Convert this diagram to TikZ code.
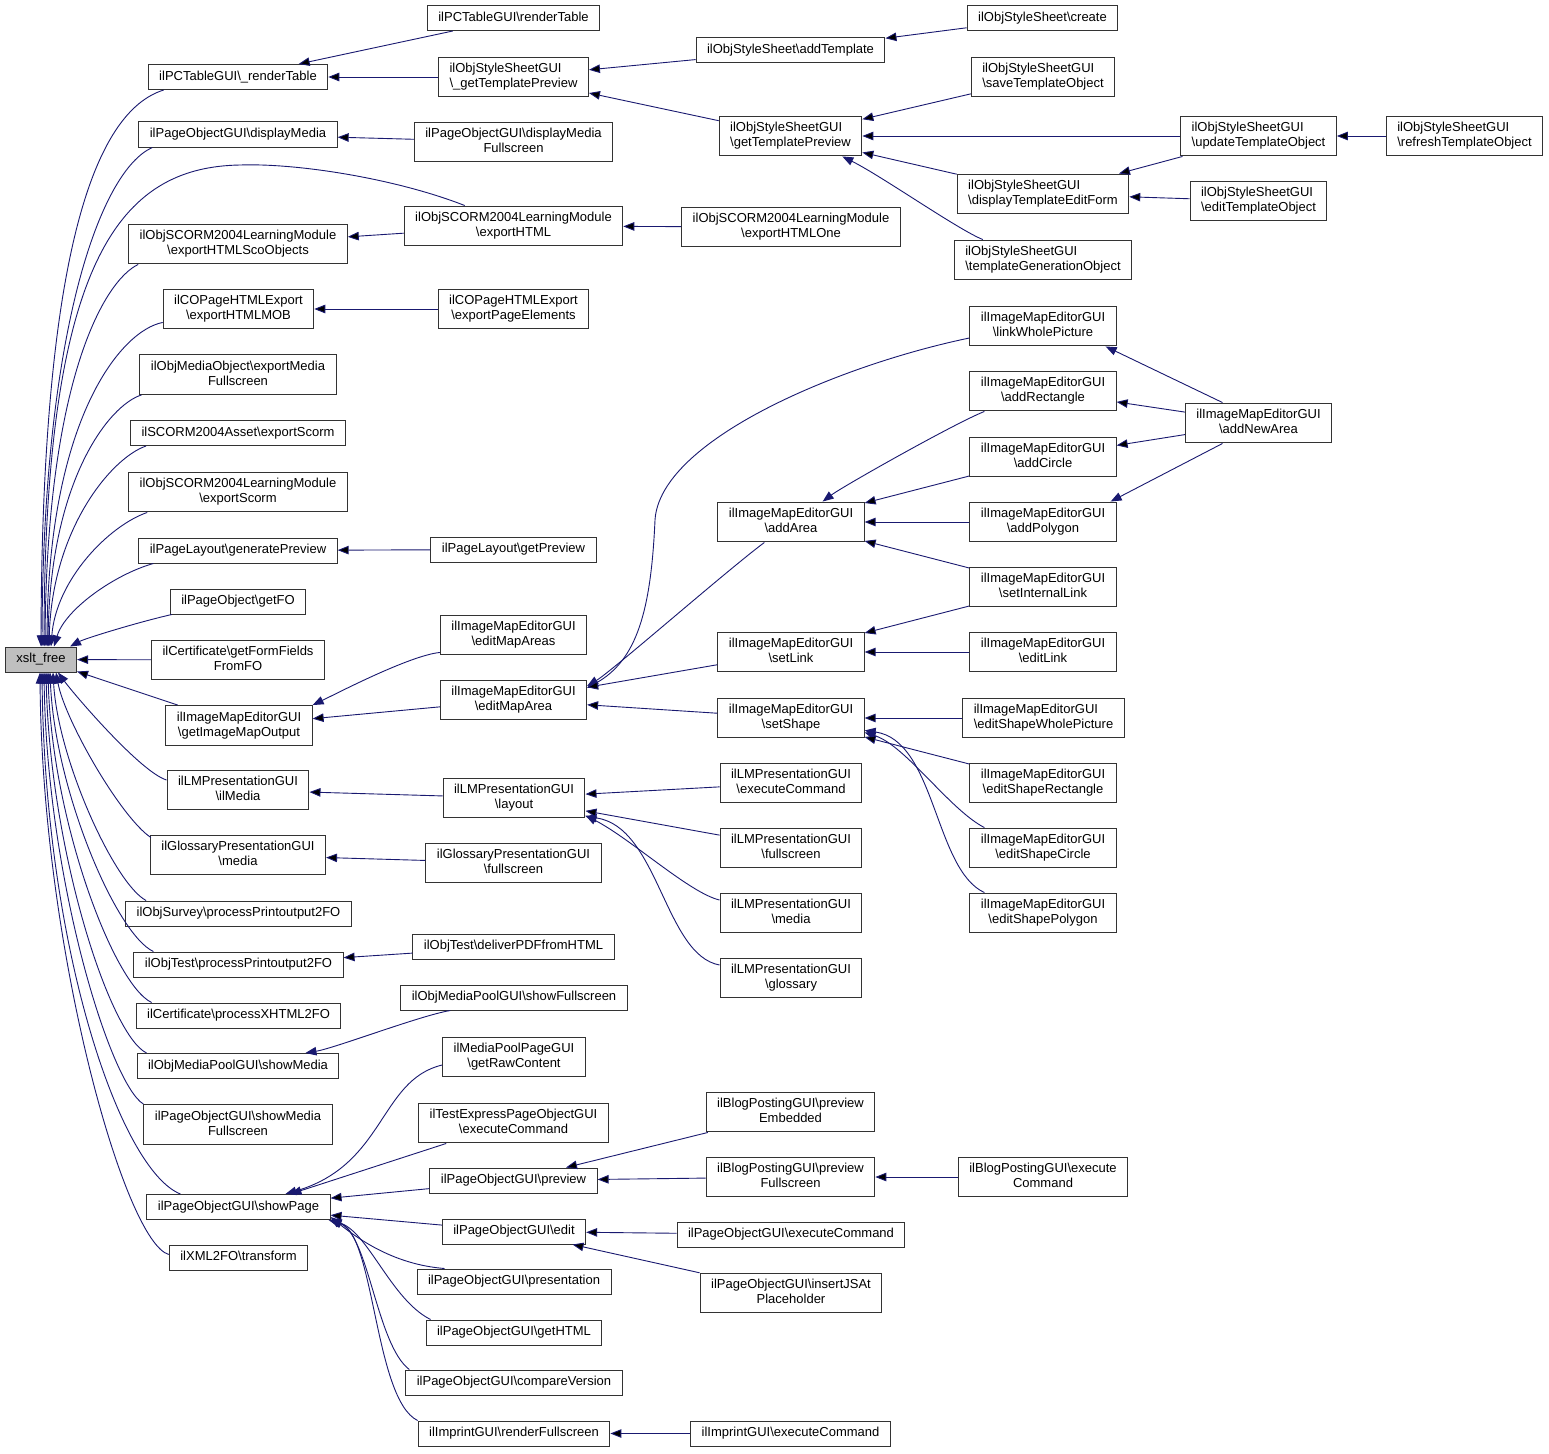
\documentclass[tikz,border=0pt]{standalone}
\usepackage{fontspec}
\setmainfont{Liberation Sans}
\usetikzlibrary{arrows.meta}

\definecolor{edgeblue}{HTML}{191970}
\definecolor{rootgray}{HTML}{BFBFBF}
\newcommand{\bs}{\textbackslash}
\newcommand{\fnstrut}{\vrule width 0pt height 9.5pt depth 3pt}

\tikzset{
  fn/.style={draw=black!80, line width=1pt, fill=white, inner xsep=11pt, inner ysep=6.25pt,
    align=center, font=\fontsize{13}{15}\selectfont,
    execute at begin node=\fnstrut, execute at end node=\fnstrut},
  fnl/.style={fn, align=left},
  root/.style={fn, fill=rootgray},
  call/.style={draw=edgeblue, line width=0.9pt, -{Triangle[length=11pt,width=8.5pt]}}
}

\begin{document}
\begin{tikzpicture}[x=1pt, y=1pt]
  \fill[white] (0,0) rectangle (1549,-1453);
  \useasboundingbox (0,0) rectangle (1549,-1453);

  \node[root] (xslt) at (41,-659.5) {xslt\_free};

  % first column
  \node[fn] (ptRenderU) at (238,-77) {ilPCTableGUI\bs\_renderTable};
  \node[fn] (dispMedia) at (238,-134.5) {ilPageObjectGUI\bs displayMedia};
  \node[fn] (expSco) at (238,-244) {ilObjSCORM2004LearningModule\\\bs exportHTMLScoObjects};
  \node[fn] (expMOB) at (238.5,-309) {ilCOPageHTMLExport\\\bs exportHTMLMOB};
  \node[fn] (expMediaFS) at (238,-374.5) {ilObjMediaObject\bs exportMedia\\Fullscreen};
  \node[fn] (assetScorm) at (238,-433) {ilSCORM2004Asset\bs exportScorm};
  \node[fn] (lmScorm) at (238,-492) {ilObjSCORM2004LearningModule\\\bs exportScorm};
  \node[fn] (genPrev) at (238,-550.5) {ilPageLayout\bs generatePreview};
  \node[fn] (getFO) at (238,-601.5) {ilPageObject\bs getFO};
  \node[fn] (formFields) at (238,-660) {ilCertificate\bs getFormFields\\FromFO};
  \node[fn] (imgMapOut) at (239,-725.5) {ilImageMapEditorGUI\\\bs getImageMapOutput};
  \node[fn] (ilMedia) at (238,-790) {ilLMPresentationGUI\\\bs ilMedia};
  \node[fn] (glossMedia) at (238,-855) {ilGlossaryPresentationGUI\\\bs media};
  \node[fn] (survey) at (238.5,-913.5) {ilObjSurvey\bs processPrintoutput2FO};
  \node[fn] (testPrint) at (238.5,-964.5) {ilObjTest\bs processPrintoutput2FO};
  \node[fn] (xhtml) at (238.5,-1015.5) {ilCertificate\bs processXHTML2FO};
  \node[fn] (showMedia) at (238,-1066) {ilObjMediaPoolGUI\bs showMedia};
  \node[fn] (showMediaFS) at (238,-1124.5) {ilPageObjectGUI\bs showMedia\\Fullscreen};
  \node[fn] (showPage) at (238.5,-1207) {ilPageObjectGUI\bs showPage};
  \node[fn] (transform) at (238.5,-1257.5) {ilXML2FO\bs transform};

  % second column
  \node[fn] (renderTable) at (513.5,-18) {ilPCTableGUI\bs renderTable};
  \node[fnl] (getTplPrevU) at (513.5,-77) {ilObjStyleSheetGUI\\\bs\_getTemplatePreview};
  \node[fn] (dispMediaFS) at (513.5,-142) {ilPageObjectGUI\bs displayMedia\\Fullscreen};
  \node[fn] (expHTML) at (513.5,-226) {ilObjSCORM2004LearningModule\\\bs exportHTML};
  \node[fn] (expPageEl) at (513.5,-309) {ilCOPageHTMLExport\\\bs exportPageElements};
  \node[fn] (getPreview) at (513.5,-549.5) {ilPageLayout\bs getPreview};
  \node[fn] (editMapAreas) at (513.5,-635) {ilImageMapEditorGUI\\\bs editMapAreas};
  \node[fn] (editMapArea) at (513.5,-700) {ilImageMapEditorGUI\\\bs editMapArea};
  \node[fn] (layout) at (514,-798) {ilLMPresentationGUI\\\bs layout};
  \node[fn] (glossFS) at (513.5,-863) {ilGlossaryPresentationGUI\\\bs fullscreen};
  \node[fn] (deliverPDF) at (513.5,-946.5) {ilObjTest\bs deliverPDFfromHTML};
  \node[fn] (showFS) at (514,-997.5) {ilObjMediaPoolGUI\bs showFullscreen};
  \node[fn] (rawContent) at (514,-1057) {ilMediaPoolPageGUI\\\bs getRawContent};
  \node[fn] (teExec) at (513.5,-1123) {ilTestExpressPageObjectGUI\\\bs executeCommand};
  \node[fn] (preview) at (513.5,-1180.5) {ilPageObjectGUI\bs preview};
  \node[fn] (edit) at (514,-1231.5) {ilPageObjectGUI\bs edit};
  \node[fn] (presentation) at (514,-1281.5) {ilPageObjectGUI\bs presentation};
  \node[fn] (getHTML) at (514,-1332.5) {ilPageObjectGUI\bs getHTML};
  \node[fn] (compareVer) at (514,-1382.5) {ilPageObjectGUI\bs compareVersion};
  \node[fn] (renderFS) at (514,-1433.5) {ilImprintGUI\bs renderFullscreen};

  % third column
  \node[fn] (addTpl) at (790.5,-50.5) {ilObjStyleSheet\bs addTemplate};
  \node[fnl] (getTplPrev) at (790.5,-136) {ilObjStyleSheetGUI\\\bs getTemplatePreview};
  \node[fn] (expHTMLOne) at (791,-227) {ilObjSCORM2004LearningModule\\\bs exportHTMLOne};
  \node[fn] (addArea) at (791,-522) {ilImageMapEditorGUI\\\bs addArea};
  \node[fn] (setLink) at (791,-652) {ilImageMapEditorGUI\\\bs setLink};
  \node[fn] (setShape) at (791,-718) {ilImageMapEditorGUI\\\bs setShape};
  \node[fn] (lmExec) at (791,-783) {ilLMPresentationGUI\\\bs executeCommand};
  \node[fn] (lmFS) at (791,-848) {ilLMPresentationGUI\\\bs fullscreen};
  \node[fn] (lmMedia) at (791,-913) {ilLMPresentationGUI\\\bs media};
  \node[fn] (lmGloss) at (791,-978) {ilLMPresentationGUI\\\bs glossary};
  \node[fn] (blogEmb) at (790.5,-1112) {ilBlogPostingGUI\bs preview\\Embedded};
  \node[fn] (blogFS) at (790.5,-1177) {ilBlogPostingGUI\bs preview\\Fullscreen};
  \node[fn] (pogExec) at (791,-1234.5) {ilPageObjectGUI\bs executeCommand};
  \node[fn] (insertJS) at (791,-1293) {ilPageObjectGUI\bs insertJSAt\\Placeholder};
  \node[fn] (imprintExec) at (790.5,-1433.5) {ilImprintGUI\bs executeCommand};

  % fourth column
  \node[fn] (create) at (1042.5,-18) {ilObjStyleSheet\bs create};
  \node[fnl] (saveTpl) at (1043,-77) {ilObjStyleSheetGUI\\\bs saveTemplateObject};
  \node[fnl] (dispForm) at (1043,-194) {ilObjStyleSheetGUI\\\bs displayTemplateEditForm};
  \node[fnl] (tplGen) at (1043,-260) {ilObjStyleSheetGUI\\\bs templateGenerationObject};
  \node[fn] (linkWhole) at (1043,-326) {ilImageMapEditorGUI\\\bs linkWholePicture};
  \node[fn] (addRect) at (1043,-391) {ilImageMapEditorGUI\\\bs addRectangle};
  \node[fn] (addCircle) at (1043,-457) {ilImageMapEditorGUI\\\bs addCircle};
  \node[fn] (addPoly) at (1043,-522) {ilImageMapEditorGUI\\\bs addPolygon};
  \node[fn] (setIntLink) at (1043,-587) {ilImageMapEditorGUI\\\bs setInternalLink};
  \node[fn] (editLink) at (1043,-652) {ilImageMapEditorGUI\\\bs editLink};
  \node[fnl] (esWhole) at (1043.5,-718) {ilImageMapEditorGUI\\\bs editShapeWholePicture};
  \node[fn] (esRect) at (1043,-783) {ilImageMapEditorGUI\\\bs editShapeRectangle};
  \node[fn] (esCircle) at (1043,-848) {ilImageMapEditorGUI\\\bs editShapeCircle};
  \node[fn] (esPoly) at (1043,-913) {ilImageMapEditorGUI\\\bs editShapePolygon};
  \node[fn] (blogExec) at (1043,-1177) {ilBlogPostingGUI\bs execute\\Command};

  % fifth and sixth column
  \node[fnl] (updateTpl) at (1258.5,-136) {ilObjStyleSheetGUI\\\bs updateTemplateObject};
  \node[fnl] (editTpl) at (1258.5,-201) {ilObjStyleSheetGUI\\\bs editTemplateObject};
  \node[fn] (addNewArea) at (1258.5,-423) {ilImageMapEditorGUI\\\bs addNewArea};
  \node[fnl] (refreshTpl) at (1464.5,-136) {ilObjStyleSheetGUI\\\bs refreshTemplateObject};

  % callers of xslt_free, above it
  \draw[call] ([xshift=16pt]ptRenderU.south west) .. controls +(-68,-21) and +(1,397) .. (xslt.north);
  \draw[call] ([xshift=14pt]dispMedia.south west) .. controls +(-52,-23) and +(1,317) .. ([xshift=1pt]xslt.north);
  \draw[call] ([xshift=61pt]expHTML.north west) .. controls +(-66,26) and +(60,2) .. (240,-165)
    .. controls +(-120,-2) and +(1,387) .. ([xshift=3pt]xslt.north);
  \draw[call] ([xshift=10pt]expSco.south west) .. controls +(-34,-16) and +(2,267) .. ([xshift=4pt]xslt.north);
  \draw[call] ([yshift=7pt]expMOB.south west) .. controls +(-42,-8) and +(1,227) .. ([xshift=6pt]xslt.north);
  \draw[call] ([xshift=2pt]expMediaFS.south west) .. controls +(-32,-10) and +(2,167) .. ([xshift=7pt]xslt.north);
  \draw[call] ([xshift=16pt]assetScorm.south west) .. controls +(-35,-12) and +(3,117) .. ([xshift=8pt]xslt.north);
  \draw[call] ([xshift=19pt]lmScorm.south west) .. controls +(-38,-13) and +(5,67) .. ([xshift=10pt]xslt.north);
  \draw[call] ([xshift=15pt]genPrev.south west) .. controls +(-39,-11) and +(11,37) .. ([xshift=13pt]xslt.north);
  \draw[call] ([xshift=2pt]getFO.south west) .. controls +(-35,-8) and +(15,8) .. ([xshift=-7pt]xslt.north east);
  % callers of xslt_free, below it
  \draw[call] ([yshift=10pt]ilMedia.west) .. controls +(-26,8) and +(17,-23) .. ([xshift=17pt]xslt.south);
  \draw[call] ([xshift=1pt,yshift=-3pt]glossMedia.north west) .. controls +(-30,20) and +(9,-48) .. ([xshift=15pt]xslt.south);
  \draw[call] ([xshift=21pt]survey.north west) .. controls +(-31,16) and +(5,-88) .. ([xshift=12pt]xslt.south);
  \draw[call] ([xshift=20pt]testPrint.north west) .. controls +(-37,17) and +(5,-118) .. ([xshift=9pt]xslt.south);
  \draw[call] ([xshift=16pt]xhtml.north west) .. controls +(-38,18) and +(4,-148) .. ([xshift=7pt]xslt.south);
  \draw[call] ([xshift=10pt]showMedia.north west) .. controls +(-37,18) and +(4,-178) .. ([xshift=5pt]xslt.south);
  \draw[call] (showMediaFS.north west) .. controls +(-33,20) and +(3,-208) .. ([xshift=3pt]xslt.south);
  \draw[call] ([xshift=34pt]showPage.north west) .. controls +(-60,24) and +(3,-278) .. ([xshift=1pt]xslt.south);
  \draw[call] ([yshift=3pt]transform.west) .. controls +(-44,12) and +(2,-278) .. ([xshift=-1pt]xslt.south);

  % other curved calls
  \draw[call] ([xshift=29pt]tplGen.north west) .. controls +(-25,10) and +(40,-20) .. ([xshift=-20pt]getTplPrev.south east);
  \draw[call] ([yshift=3pt]editMapAreas.south west) .. controls +(-30,-3) and +(25,12) .. (imgMapOut.north east);
  \draw[call] ([xshift=50pt]showFS.south west) .. controls +(-30,-5) and +(30,5) .. ([xshift=-34pt]showMedia.north east);
  \draw[call] ([yshift=-8pt]rawContent.west) .. controls +(-63,-15) and +(100,29) .. ([xshift=139pt]showPage.north west);
  \draw[call] ([xshift=28pt]teExec.south west) -- ([xshift=144pt]showPage.north west);
  \draw[call] ([xshift=28pt]presentation.north west) .. controls +(-50,4) and +(29,-23) .. ([yshift=3pt]showPage.south east);
  \draw[call] ([xshift=5pt]getHTML.north west) .. controls +(-40,20) and +(39,-10) .. ([xshift=-2pt]showPage.south east);
  \draw[call] ([xshift=4pt]compareVer.north west) .. controls +(-33,25) and +(39,-13) .. ([xshift=-1pt]showPage.south east);
  \draw[call] (renderFS.north west) .. controls +(-43,21) and +(44,-15) .. (showPage.south east);
  \draw[call] ([yshift=-12pt]linkWhole.west) .. controls +(-130,-27) and +(5,80) .. (655,-520)
    .. controls +(-4,-90) and +(50,28) .. ([yshift=12pt]editMapArea.east);
  \draw[call] ([xshift=47pt]addArea.south west) .. controls +(-40,-30) and +(25,15) .. ([yshift=14pt]editMapArea.east);
  \draw[call] ([xshift=15pt]addRect.south west) .. controls +(-30,-12) and +(20,15) .. ([xshift=-42pt]addArea.north east);
  \draw[call] ([xshift=-36pt]addNewArea.north) -- ([xshift=-11pt]linkWhole.south east);
  \draw[call] ([xshift=-36pt]addNewArea.south) -- ([xshift=-6pt]addPoly.north east);
  \draw[call] ([xshift=15pt]esCircle.north west) .. controls +(-35,18) and +(41,-13) .. ([yshift=6pt]setShape.south east);
  \draw[call] ([xshift=15pt]esPoly.north west) .. controls +(-50,23) and +(71,-10) .. ([yshift=8pt]setShape.south east);
  \draw[call] ([yshift=13pt]lmMedia.west) .. controls +(-30,7) and +(45,-23) .. ([yshift=3pt]layout.south east);
  \draw[call] ([yshift=13pt]lmGloss.west) .. controls +(-55,10) and +(73,-10) .. ([yshift=2pt]layout.south east);

  % straight calls
  \path[call]
    (formFields) edge (xslt)
    (imgMapOut) edge (xslt)
    (renderTable) edge (ptRenderU)
    (getTplPrevU) edge (ptRenderU)
    (addTpl) edge (getTplPrevU)
    (create) edge (addTpl)
    (getTplPrev) edge (getTplPrevU)
    (saveTpl) edge (getTplPrev)
    (updateTpl) edge (getTplPrev)
    (dispForm) edge (getTplPrev)
    (refreshTpl) edge (updateTpl)
    (updateTpl) edge (dispForm)
    (editTpl) edge (dispForm)
    (dispMediaFS) edge (dispMedia)
    (expHTML) edge (expSco)
    (expHTMLOne) edge (expHTML)
    (expPageEl) edge (expMOB)
    (getPreview) edge (genPrev)
    (editMapArea) edge (imgMapOut)
    (layout) edge (ilMedia)
    (glossFS) edge (glossMedia)
    (deliverPDF) edge (testPrint)
    (preview) edge (showPage)
    (edit) edge (showPage)
    (blogEmb) edge (preview)
    (blogFS) edge (preview)
    (blogExec) edge (blogFS)
    (pogExec) edge (edit)
    (insertJS) edge (edit)
    (imprintExec) edge (renderFS)
    (setLink) edge (editMapArea)
    (setShape) edge (editMapArea)
    (addCircle) edge (addArea)
    (addPoly) edge (addArea)
    (setIntLink) edge (addArea)
    (setIntLink) edge (setLink)
    (editLink) edge (setLink)
    (addNewArea) edge (addRect)
    (addNewArea) edge (addCircle)
    (esWhole) edge (setShape)
    (esRect) edge (setShape)
    (lmExec) edge (layout)
    (lmFS) edge (layout)
    ;
\end{tikzpicture}
\end{document}
